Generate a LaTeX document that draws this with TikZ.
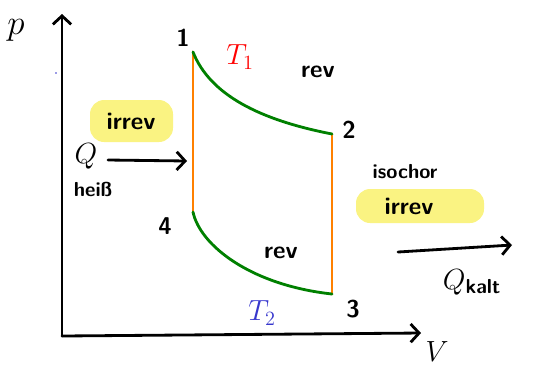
\documentclass[tikz,border=0pt]{standalone}
\usepackage{amsmath}
\usepackage{tikz}
\usetikzlibrary{arrows.meta}
\definecolor{hlyellow}{RGB}{250,243,130}
\definecolor{isoorange}{RGB}{255,128,0}
\definecolor{revgreen}{RGB}{0,128,0}
\definecolor{tblue}{RGB}{55,55,205}
\tikzset{
  hand/.style={line width=2pt,line cap=round},
  handarrow/.style={hand,->,>={Straight Barb[length=6pt,width=13pt]}},
  marker/.style={fill=hlyellow,rounded corners=10pt},
}
\begin{document}
\begin{tikzpicture}[x=0.025cm,y=-0.025cm,font=\sffamily\bfseries\LARGE]
            \useasboundingbox (0,0) rectangle (543,371);
            % axes
            \coordinate (O) at (62,336);
            \coordinate (ptop) at (62,14);
            \coordinate (vend) at (421,333);
            \draw[handarrow] (O)--(ptop);
            \draw[handarrow] (O)--(vend);
            \node (plab) at (16,30) {\Huge $p$};
            \node (vlab) at (437,352) {\huge $V$};
            \fill[tblue] (56,73) circle (0.7pt);
            % cycle
            \coordinate (c1) at (193,52);
            \coordinate (c2) at (332,134);
            \coordinate (c3) at (332,294);
            \coordinate (c4) at (193,212);
            \draw[hand,isoorange] (c1)--(c4);
            \draw[hand,isoorange] (c2)--(c3);
            \draw[hand,revgreen] (c1) .. controls (210,95) and (260,120) .. (c2);
            \draw[hand,revgreen] (c4) .. controls (200,245) and (250,285) .. (c3);
            \node (n1) at (183,38) {1};
            \node (n2) at (349,130) {2};
            \node (n3) at (353,309) {3};
            \node (n4) at (165,226) {4};
            \node[red] (t1) at (240,57) {\huge $T_1$};
            \node[tblue] (t2) at (262,313) {\huge $T_2$};
            \node (rev1) at (318,72) {rev};
            \node (rev2) at (281,253) {rev};
            % heat in
            \fill[marker] (90,100) rectangle (173,142);
            \node (irr1) at (131,121) {irrev};
            \node (qh) at (86,156) {\huge $Q$};
            \node (heiss) at (93,189) {\Large heiß};
            \coordinate (qhend) at (187,161);
            \draw[handarrow] (108,160)--(qhend);
            % heat out
            \node (iso) at (405,172) {\Large isochor};
            \fill[marker] (356,189) rectangle (484,223);
            \node (irr2) at (409,206) {irrev};
            \coordinate (qk1) at (398,252);
            \coordinate (qk2) at (512,245);
            \draw[handarrow] (qk1)--(qk2);
            \node (qk) at (472,282) {\huge $Q_{\text{kalt}}$};
        \end{tikzpicture}
\end{document}
